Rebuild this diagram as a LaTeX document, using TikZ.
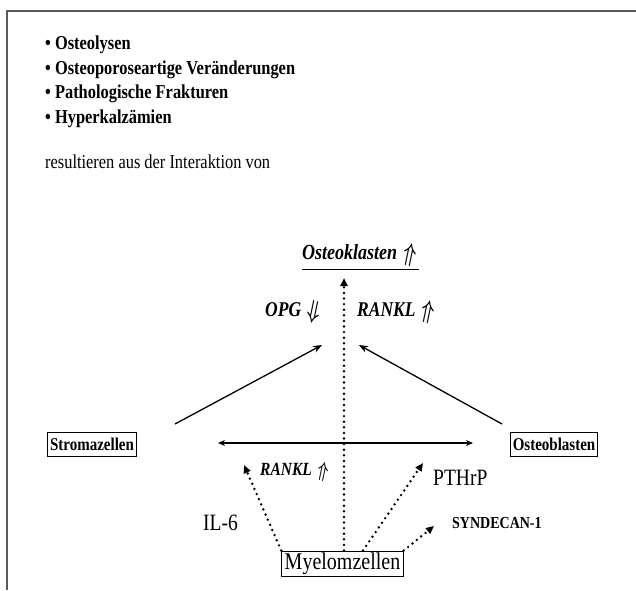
\documentclass[tikz,border=0pt]{standalone}
\usepackage{graphicx}
\usepackage{fontspec}
\setmainfont{Liberation Serif}
\usetikzlibrary{arrows.meta,positioning}
\newcommand{\tall}[1]{\scalebox{1}[1.2]{#1}}
\newcommand{\upar}{\rotatebox{-14}{\scalebox{1.05}[1.25]{$\Uparrow$}}}
\newcommand{\downar}{\rotatebox{-14}{\scalebox{1.05}[1.25]{$\Downarrow$}}}

\begin{document}
\begin{tikzpicture}[
	x = 1pt, y = -1pt,
	listnode/.style={anchor=base west, inner sep=0pt, font=\fontsize{16.4}{18}\selectfont\bfseries},
	textnode/.style={anchor=base west, inner sep=0pt, font=\fontsize{16.4}{18}\selectfont},
	cellnode/.style={rectangle, draw, line width=1pt, inner xsep=2.5pt, inner ysep=0pt, minimum height=24pt, font=\fontsize{15}{17}\selectfont\bfseries},
	myelnode/.style={rectangle, draw, line width=1pt, inner xsep=3pt, inner ysep=0pt, minimum height=25pt, font=\fontsize{20}{22}\selectfont},
	factornode/.style={anchor=base west, inner sep=0pt, font=\fontsize{17.5}{20}\selectfont\bfseries\itshape\boldmath},
	signalnode/.style={anchor=base west, inner sep=0pt, font=\fontsize{19.5}{21}\selectfont},
	solidarrow/.style={-{Stealth[length=9pt,width=7pt]}, line width=1.3pt},
	dotarrow/.style={-{Triangle[length=8pt,width=7pt]}, line width=2.7pt, line cap=round, dash pattern=on 0pt off 5.6pt},
	]
	\useasboundingbox (0,0) rectangle (636,590);
	\draw[black!65, line width=1.5pt] (636,11) -- (7,11) -- (7,590);

	%Nodes
	\node[listnode] (b1) at (45,49.5) {\tall{• Osteolysen}};
	\node[listnode] (b2) at ([yshift=-24.7pt]b1.base west) {\tall{• Osteoporoseartige Veränderungen}};
	\node[listnode] (b3) at ([yshift=-24.7pt]b2.base west) {\tall{• Pathologische Frakturen}};
	\node[listnode] (b4) at ([yshift=-24.7pt]b3.base west) {\tall{• Hyperkalzämien}};
	\node[textnode] (res) at (45,168) {\tall{resultieren aus der Interaktion von}};

	\node[factornode, font=\fontsize{18}{20}\selectfont\bfseries\itshape\boldmath] (oklast) at (302,259) {\underline{\tall{Osteoklasten \upar}}};
	\node[factornode] (opg) at (265,316) {\tall{OPG \downar}};
	\node[factornode] (rankltop) at (357,316) {\tall{RANKL \upar}};

	\node[cellnode] (strom) at (92,444) {\tall{Stromazellen}};
	\node[cellnode] (oblast) at (554,444) {\tall{Osteoblasten}};
	\node[myelnode] (myelom) at (342.5,563.5) {\tall{Myelomzellen}};

	\node[factornode, font=\fontsize{15.5}{18}\selectfont\bfseries\itshape\boldmath] (ranklbot) at (260,475) {\tall{RANKL \upar}};
	\node[signalnode] (il6) at (203,530) {\tall{IL-6}};
	\node[signalnode] (pthrp) at (433,485) {\tall{PTHrP}};
	\node[signalnode, font=\fontsize{14}{16}\selectfont\bfseries] (synd) at (452,528) {\tall{SYNDECAN-1}};

	\coordinate (sl) at (175,424);
	\coordinate (st) at (322,345);
	\coordinate (ol) at (502,424);
	\coordinate (ot) at (359,345);
	\coordinate (hl) at (218,443);
	\coordinate (hr) at (473,443);
	\coordinate (vtop) at (344,278);
	\coordinate (iltip) at (244,465);
	\coordinate (pttip) at (423,463);
	\coordinate (sytip) at (434,526);

	%Lines
	\draw[solidarrow] (sl) -- (st);
	\draw[solidarrow] (ol) -- (ot);
	\draw[{Stealth[length=7pt,width=6pt]}-{Stealth[length=7pt,width=6pt]}, line width=1.1pt] (hl) -- (hr);
	\draw[dotarrow] ([xshift=1.5pt]myelom.north) -- (vtop);
	\draw[dotarrow] (myelom.north west) -- (iltip);
	\draw[dotarrow] ([xshift=20.5pt]myelom.north) -- (pttip);
	\draw[dotarrow] (myelom.north east) -- (sytip);
\end{tikzpicture}
\end{document}
